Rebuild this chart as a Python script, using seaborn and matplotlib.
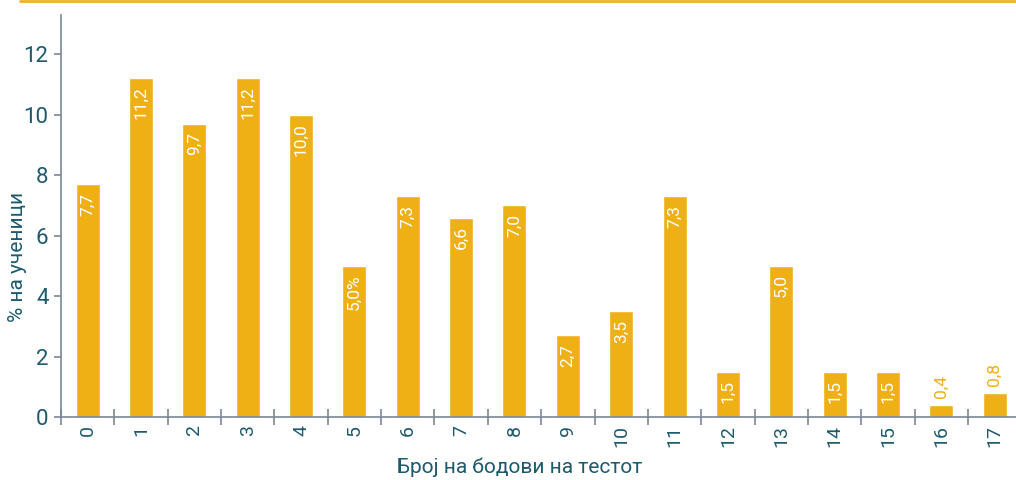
import matplotlib
matplotlib.use("Agg")
import matplotlib.pyplot as plt
from matplotlib.lines import Line2D
from matplotlib.ticker import FixedLocator
import seaborn as sns
import pandas as pd

# Score distribution on the test
points = [str(i) for i in range(18)]
percent = [7.7, 11.2, 9.7, 11.2, 10.0, 5.0, 7.3, 6.6, 7.0, 2.7,
           3.5, 7.3, 1.5, 5.0, 1.5, 1.5, 0.4, 0.8]
value_labels = ["7,7", "11,2", "9,7", "11,2", "10,0", "5,0%", "7,3", "6,6", "7,0",
                "2,7", "3,5", "7,3", "1,5", "5,0", "1,5", "1,5", "0,4", "0,8"]
y_ticks = [0, 2, 4, 6, 8, 10, 12]
x_title = "Број на бодови на тестот"
y_title = "% на ученици"

BAR = "#efb016"
TEAL = "#1d5a6e"
AXIS = "#7a8896"

sns.set_theme(style="white")
plt.rcParams["font.family"] = ["Roboto", "DejaVu Sans"]

fig = plt.figure(figsize=(10.16, 4.8), dpi=100)
ax = fig.add_axes([0.060, 0.131, 0.940, 0.838])

df = pd.DataFrame({"points": points, "percent": percent})
sns.barplot(data=df, x="points", y="percent", order=points, color=BAR,
            saturation=1, width=0.45, ax=ax)

ax.set_xlim(-0.5, 17.4)
ax.set_ylim(0, 13.3)

for spine in ("top", "right"):
    ax.spines[spine].set_visible(False)
for spine in ("left", "bottom"):
    ax.spines[spine].set_color(AXIS)
    ax.spines[spine].set_linewidth(1.2)

ax.set_yticks(y_ticks)
ax.set_yticklabels([str(t) for t in y_ticks])
ax.tick_params(axis="y", direction="out", length=5, width=1.2, color=AXIS,
               labelcolor=TEAL, labelsize=16, pad=4, left=True)
ax.tick_params(axis="x", which="major", length=0, labelcolor=TEAL,
               labelsize=14, labelrotation=90, pad=6)
ax.xaxis.set_minor_locator(FixedLocator([i - 0.5 for i in range(18)]))
ax.tick_params(axis="x", which="minor", direction="inout", length=12,
               width=1.2, color=AXIS, bottom=True)

ax.set_xlabel(x_title, color=TEAL, fontsize=15)
ax.xaxis.set_label_coords(0.48, -0.1)
ax.set_ylabel(y_title, color=TEAL, fontsize=15)
ax.yaxis.set_label_coords(-0.036, 0.398)

# Value labels: inside the bar near its top, or above it for very short bars
for i, (v, lab) in enumerate(zip(percent, value_labels)):
    if v < 1.0:
        ax.annotate(lab, (i, v), xytext=(0, 5), textcoords="offset points",
                    ha="center", va="bottom", rotation=90,
                    color=BAR, fontsize=12.5)
    else:
        ax.annotate(lab, (i, v), xytext=(0, -6), textcoords="offset points",
                    ha="center", va="top", rotation=90,
                    color="white", fontsize=12.5)

# Rule across the top of the figure
fig.add_artist(Line2D([0.02, 1.0], [0.998, 0.998], transform=fig.transFigure,
                      color="#f0b323", lw=2))

fig.savefig("out.png", dpi=100, facecolor="white")
